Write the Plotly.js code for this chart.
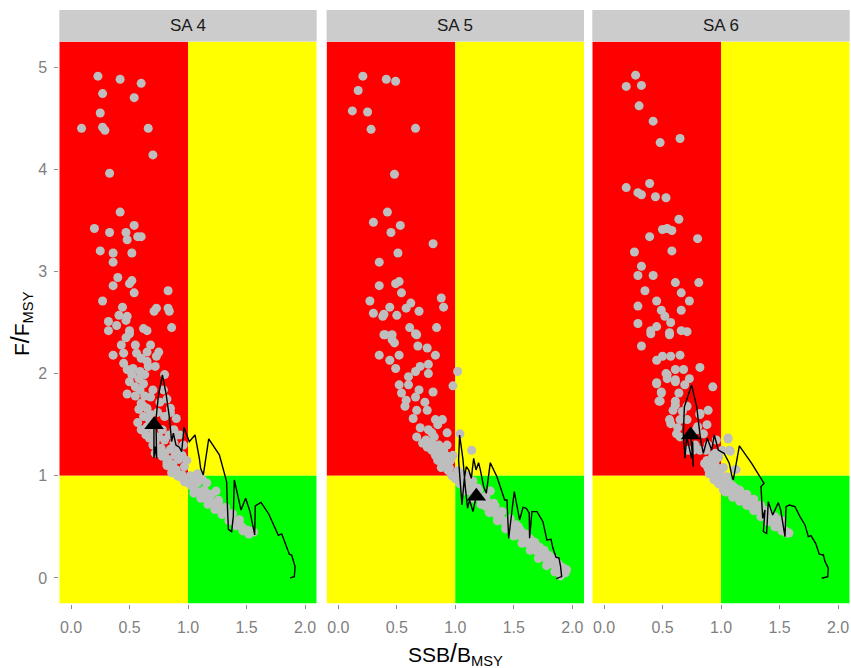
<!DOCTYPE html>
<html><head><meta charset="utf-8">
<script src="https://cdn.plot.ly/plotly-3.0.1.min.js"></script>
<style>html,body{margin:0;padding:0;background:#fff}#chart{width:851px;height:668px}</style>
</head><body><div id="chart"></div>
<script>
// ---------- data ----------
const panelNames = ["SA 4", "SA 5", "SA 6"];
const xTickVals = [0, 0.5, 1, 1.5, 2];
const xTickText = ["0.0", "0.5", "1.0", "1.5", "2.0"];
const yTickVals = [0, 1, 2, 3, 4, 5];

// SA 4 points
const sa4PtsX = [0.23,0.42,0.60,0.27,0.54,0.25,0.09,0.27,0.29,0.66,0.70,0.33,0.42,0.20,0.33,0.54,0.47,0.48,0.57,0.60,0.25,0.36,0.52,0.36,0.40,0.36,0.50,0.52,0.54,0.83,0.27,0.44,0.41,0.48,0.47,0.71,0.73,0.83,0.84,0.86,0.32,0.39,0.62,0.32,0.50,0.65,
 0.36,0.43,0.45,0.50,0.47,0.56,0.65,0.68,0.73,0.75,0.45,0.48,0.52,0.59,0.66,0.72,0.63,0.80,0.50,0.55,0.48,0.59,0.70,0.60,0.65,0.85,0.90,0.68,0.79,
 0.55,0.60,0.65,0.53,0.58,0.62,0.55,0.63,0.58,0.62,0.67,0.65,0.70,0.67,0.72,0.75,0.77,0.80,0.78,0.80,0.74,0.76,0.72,0.83,0.85,0.87,0.90,0.92,0.88,0.95,0.97,0.93,1.00,1.02,1.05,1.07,1.10,1.12,1.15,1.18,1.20,1.23,1.26,1.28,1.31,1.34,1.37,1.40,1.43,1.46,1.50,1.53,1.56,0.88,0.93,0.96,0.95,0.99,0.85,0.82,1.12,1.16,1.08,1.04,1.24,0.82,0.86,0.91,0.97,
 1.02,1.08,1.14,1.20,1.26,1.32,1.38,1.44,1.05,1.11,1.17,1.23,1.29,1.35,1.41,1.47,1.52,0.74,0.78,0.82,0.86,0.89,0.92,0.80,0.84,0.88,0.60,0.64,0.68,0.70,0.57,0.62];
const sa4PtsY = [4.91,4.88,4.84,4.74,4.70,4.55,4.40,4.41,4.38,4.40,4.14,3.96,3.58,3.42,3.38,3.45,3.38,3.31,3.34,3.34,3.20,3.18,3.18,3.09,2.94,2.86,2.88,2.91,2.79,2.81,2.71,2.65,2.57,2.56,2.52,2.61,2.64,2.64,2.61,2.45,2.51,2.47,2.44,2.42,2.42,2.42,
 2.18,2.28,2.20,2.39,2.35,2.20,2.21,2.28,2.17,2.21,2.10,2.04,1.99,2.02,2.07,2.07,1.99,1.99,1.92,1.87,1.80,1.84,1.84,1.71,1.66,1.66,1.56,1.77,1.84,
 2.28,2.15,2.12,2.05,1.95,1.90,1.78,1.78,1.65,1.58,1.55,1.48,1.42,1.37,1.33,1.38,1.27,1.22,1.45,1.58,1.62,1.72,1.22,1.16,1.26,1.11,1.06,1.16,1.32,1.01,1.09,0.99,0.95,0.91,0.87,0.94,0.84,0.80,0.78,0.82,0.74,0.72,0.76,0.67,0.65,0.62,0.58,0.55,0.52,0.50,0.47,0.46,0.45,1.45,1.40,1.30,1.20,1.15,1.62,1.75,0.97,0.93,1.02,0.99,0.85,1.10,1.03,1.00,0.94,
 1.00,0.93,0.86,0.82,0.74,0.69,0.63,0.57,0.83,0.78,0.72,0.67,0.62,0.56,0.51,0.46,0.43,1.26,1.19,1.13,1.07,1.20,1.26,1.35,1.40,1.38,1.45,1.40,1.60,1.30,1.52,1.68];
const sa4LineX = [1.872,1.909,1.915,1.886,1.866,1.832,1.801,1.772,1.735,1.690,1.624,1.575,1.570,1.530,1.493,1.453,1.396,1.387,1.373,1.345,1.336,1.330,1.268,1.177,1.131,1.108,1.097,1.060,1.011,0.966,0.946,0.926,0.897,0.875,0.860,0.840,0.812,0.781,0.746,0.726,0.732,0.718,0.709,0.709];
const sa4LineY = [0.00,0.013,0.111,0.225,0.232,0.339,0.431,0.417,0.519,0.626,0.740,0.705,0.421,0.649,0.780,0.665,0.959,0.600,0.453,0.476,0.731,0.943,1.204,1.360,1.008,1.073,1.171,1.399,1.334,1.474,1.236,1.279,1.301,1.416,1.334,1.579,1.807,1.986,1.774,1.546,1.171,1.285,1.171,1.497];
const sa4Tri = [0.71, 1.50];

// SA 5 points
const sa5PtsX = [0.21,0.41,0.49,0.17,0.12,0.25,0.28,0.66,0.48,0.42,0.30,0.53,0.45,0.81,0.51,0.35,0.35,0.49,0.52,0.54,0.27,0.88,0.90,0.44,0.30,0.38,0.39,0.50,0.58,0.62,0.69,0.61,0.84,0.39,0.46,0.66,
 0.40,0.46,0.48,0.67,0.68,0.76,0.83,0.35,0.52,0.44,0.49,0.70,0.77,0.77,0.60,0.66,1.02,0.52,0.60,0.98,0.54,0.69,0.81,0.58,0.66,0.74,0.57,0.67,0.76,0.83,0.89,0.85,0.64,0.70,0.77,0.93,0.67,1.04,1.14,1.30,
 0.72,0.75,0.78,0.82,0.80,0.84,0.86,0.88,0.90,0.92,0.85,0.94,0.96,0.97,1.00,0.98,1.02,1.04,1.06,1.08,1.10,1.13,1.16,1.18,1.21,1.24,1.26,1.30,1.33,1.36,1.40,1.43,1.47,1.50,1.54,1.58,1.62,1.66,1.70,1.74,1.78,1.82,1.86,1.90,1.94,1.20,1.28,1.34,1.38,1.46,1.52,1.56,1.60,1.64,1.68,1.72,1.76,1.80,1.84,1.88,1.92,0.88,0.93,1.10,1.15,0.80,0.84,
 1.05,1.12,1.19,1.26,1.33,1.40,1.47,1.54,1.61,1.68,1.75,1.82,1.89,1.95,1.08,1.15,1.22,1.29,1.36,1.43,1.50,1.57,1.64,1.71,1.78,1.85,1.90,0.76,0.80,0.84,0.88,0.92,0.90,0.95,0.83];
const sa5PtsY = [4.91,4.88,4.86,4.77,4.57,4.56,4.39,4.40,3.95,3.58,3.48,3.45,3.38,3.27,3.18,3.09,2.86,2.88,2.90,2.79,2.71,2.74,2.65,2.65,2.59,2.56,2.58,2.57,2.64,2.69,2.61,2.45,2.45,2.38,2.38,2.39,
 2.38,2.33,2.30,2.38,2.27,2.25,2.18,2.18,2.18,2.13,2.05,2.07,2.09,2.00,1.97,2.02,2.02,1.89,1.89,1.88,1.81,1.84,1.82,1.74,1.77,1.72,1.68,1.64,1.64,1.55,1.55,1.50,1.56,1.47,1.45,1.42,1.38,1.41,1.25,0.85,
 1.32,1.35,1.30,1.38,1.25,1.22,1.30,1.18,1.25,1.12,1.15,1.05,1.15,1.00,0.97,1.20,1.05,0.92,0.98,0.88,0.93,0.85,0.88,0.80,0.78,0.75,0.70,0.68,0.64,0.60,0.57,0.52,0.49,0.45,0.42,0.38,0.34,0.30,0.26,0.22,0.18,0.14,0.10,0.07,0.05,0.86,0.74,0.70,0.63,0.55,0.52,0.46,0.43,0.38,0.35,0.30,0.27,0.22,0.19,0.14,0.10,1.08,1.30,1.00,0.95,1.42,1.19,
 1.02,0.95,0.88,0.80,0.73,0.65,0.58,0.50,0.42,0.34,0.26,0.18,0.12,0.08,0.85,0.78,0.72,0.64,0.56,0.48,0.41,0.34,0.27,0.19,0.12,0.06,0.02,1.28,1.32,1.28,1.24,1.20,1.14,1.08,1.20];
const sa5LineX = [1.861,1.909,1.900,1.886,1.861,1.835,1.818,1.783,1.749,1.698,1.655,1.635,1.632,1.607,1.579,1.550,1.504,1.476,1.456,1.442,1.422,1.356,1.299,1.265,1.242,1.214,1.199,1.177,1.157,1.137,1.114,1.094,1.077,1.057,1.043,1.028,1.037,1.066,1.085,1.105,1.122,1.151,1.179];
const sa5LineY = [-0.007,0.013,0.111,0.196,0.202,0.290,0.378,0.372,0.551,0.649,0.649,0.388,0.633,0.682,0.691,0.568,0.845,0.568,0.388,0.763,0.763,0.991,1.128,0.828,0.894,1.057,1.128,1.057,1.171,0.975,1.057,1.089,0.975,0.714,0.910,1.155,1.399,1.155,0.894,0.682,0.763,0.649,0.802];
const sa5Tri = [1.18, 0.80];

// SA 6 points
const sa6PtsX = [0.27,0.19,0.32,0.30,0.42,0.48,0.65,0.19,0.39,0.29,0.32,0.44,0.53,0.64,0.39,0.50,0.54,0.58,0.80,0.26,0.58,0.32,0.29,0.42,0.61,0.81,0.35,0.66,0.45,0.73,0.29,0.49,0.52,0.66,0.29,0.45,0.57,0.66,0.40,0.56,
 0.40,0.56,0.71,0.32,0.45,0.50,0.57,0.65,0.61,0.68,0.82,0.53,0.54,0.61,0.45,0.73,0.69,0.49,0.93,0.47,0.61,0.59,0.67,0.89,0.82,0.57,0.63,0.65,0.80,0.78,0.87,1.06,1.01,1.07,1.13,0.95,0.89,0.98,1.05,0.93,0.72,
 0.54,0.45,0.61,0.49,0.64,0.48,0.61,0.71,0.56,0.65,0.71,0.82,0.88,0.62,0.79,0.85,0.89,0.95,0.96,0.92,0.96,1.00,1.06,1.08,1.12,1.05,1.11,1.19,1.28,1.36,1.45,1.56,0.82,0.88,0.76,
 0.88,0.92,0.96,1.00,1.03,1.06,1.10,1.14,1.18,1.22,1.26,1.30,1.34,1.38,1.42,1.46,1.50,1.55,1.58,1.02,1.08,1.12,1.16,1.20,1.24,1.28,1.32,1.36,1.40,1.44,1.48,1.52,0.98,0.94,
 1.04,1.10,1.16,1.22,1.28,1.34,1.40,1.46,1.52,1.04,1.10,1.16,1.22,1.28,1.34,1.40,1.46,1.52,0.90,0.86,0.94,1.02,0.98];
const sa6PtsY = [4.92,4.81,4.82,4.62,4.47,4.26,4.30,3.82,3.86,3.77,3.75,3.73,3.72,3.51,3.34,3.41,3.42,3.40,3.32,3.19,3.20,3.05,2.96,2.96,2.89,2.89,2.81,2.79,2.71,2.71,2.66,2.62,2.56,2.62,2.49,2.46,2.50,2.42,2.42,2.40,
 2.39,2.38,2.41,2.27,2.13,2.17,2.17,2.18,2.04,2.04,2.06,2.00,1.95,1.94,1.91,1.95,1.89,1.82,1.87,1.73,1.73,1.64,1.63,1.64,1.60,1.51,1.47,1.38,1.48,1.30,1.25,1.37,1.25,1.25,1.06,1.14,1.07,1.07,0.99,1.20,1.25,
 1.99,1.90,1.92,1.81,1.81,1.73,1.69,1.68,1.55,1.55,1.55,1.61,1.50,1.41,1.45,1.41,1.30,1.22,1.35,1.14,1.06,1.00,1.36,1.24,1.06,0.96,0.86,0.77,0.70,0.63,0.54,0.44,1.25,1.15,1.25,
 1.10,1.05,1.00,0.95,0.92,0.88,0.84,0.80,0.77,0.74,0.70,0.67,0.63,0.60,0.57,0.53,0.50,0.46,0.44,0.86,0.92,0.88,0.84,0.80,0.77,0.74,0.71,0.66,0.64,0.60,0.57,0.54,0.92,1.10,
 0.96,0.90,0.86,0.82,0.77,0.71,0.66,0.60,0.56,0.84,0.79,0.75,0.71,0.66,0.60,0.55,0.50,0.46,1.02,1.12,0.96,1.08,1.18];
const sa6LineX = [1.861,1.912,1.917,1.889,1.875,1.840,1.809,1.769,1.746,1.718,1.675,1.632,1.584,1.556,1.547,1.510,1.490,1.462,1.442,1.404,1.390,1.362,1.376,1.356,1.342,1.368,1.262,1.157,1.105,1.091,1.071,1.026,0.977,0.943,0.920,0.883,0.849,0.826,0.792,0.749,0.687,0.678,0.692,0.707,0.729,0.749,0.758,0.763,0.741];
const sa6LineY = [-0.003,0.013,0.095,0.160,0.225,0.232,0.339,0.414,0.404,0.519,0.600,0.698,0.714,0.698,0.404,0.665,0.737,0.665,0.616,0.747,0.437,0.453,0.665,0.584,0.894,0.926,1.122,1.292,0.959,1.008,1.122,1.220,1.252,1.399,1.252,1.367,1.220,1.350,1.676,1.888,1.676,1.399,1.171,1.383,1.252,1.171,1.334,1.089,1.399];
const sa6Tri = [0.74, 1.40];

// ---------- build ----------
const W = 851, H = 668;
const FONT = 'Liberation Sans, Arial, sans-serif';
const panelPx = [[59.3, 316.7], [326.6, 584.0], [592.3, 849.7]];
const yDom = [(H - 603.5) / H, (H - 41.45) / H];
const stripTop = (H - 10) / H;
const xRange = [-0.1, 2.1], yRange = [-0.25, 5.25];

const pts = [[sa4PtsX, sa4PtsY], [sa5PtsX, sa5PtsY], [sa6PtsX, sa6PtsY]];
const lines = [[sa4LineX, sa4LineY], [sa5LineX, sa5LineY], [sa6LineX, sa6LineY]];
const tris = [sa4Tri, sa5Tri, sa6Tri];

const traces = [];
const shapes = [];
const annotations = [];
const layout = {
  width: W, height: H, margin: {l: 0, r: 0, t: 0, b: 0},
  paper_bgcolor: '#FFFFFF', plot_bgcolor: '#FFFFFF', showlegend: false,
  font: {family: FONT}
};

for (let i = 0; i < 3; i++) {
  const sfx = i === 0 ? '' : String(i + 1);
  const xa = 'x' + sfx, ya = 'y' + sfx;
  const dom = [panelPx[i][0] / W, panelPx[i][1] / W];
  layout['xaxis' + sfx] = {
    domain: dom, range: xRange, anchor: ya, showgrid: false, zeroline: false, showline: false,
    tickmode: 'array', tickvals: xTickVals, ticktext: xTickText,
    ticks: 'outside', ticklen: 4, tickwidth: 1, tickcolor: '#8C8C8C', ticklabelstandoff: 5,
    tickfont: {size: 16, color: '#7F7F7F', family: FONT}
  };
  layout['yaxis' + sfx] = {
    domain: yDom, range: yRange, anchor: xa, showgrid: false, zeroline: false, showline: false,
    tickmode: 'array', tickvals: yTickVals,
    ticks: i === 0 ? 'outside' : '', showticklabels: i === 0, ticklen: 4, tickwidth: 1, tickcolor: '#8C8C8C',
    ticklabelstandoff: 4,
    tickfont: {size: 16, color: '#7F7F7F', family: FONT}
  };
  const q = [
    [xRange[0], 1, 1, yRange[1], '#FF0000'],
    [1, xRange[1], 1, yRange[1], '#FFFF00'],
    [xRange[0], 1, yRange[0], 1, '#FFFF00'],
    [1, xRange[1], yRange[0], 1, '#00FF00']
  ];
  q.forEach(r => shapes.push({type: 'rect', xref: xa, yref: ya, x0: r[0], x1: r[1], y0: r[2], y1: r[3],
    fillcolor: r[4], line: {width: 0}, layer: 'below'}));
  shapes.push({type: 'rect', xref: 'paper', yref: 'paper', x0: dom[0], x1: dom[1], y0: yDom[1], y1: stripTop,
    fillcolor: '#CCCCCC', line: {width: 0}});
  annotations.push({xref: 'paper', yref: 'paper', x: (dom[0] + dom[1]) / 2, y: (yDom[1] + stripTop) / 2,
    text: panelNames[i], showarrow: false, xanchor: 'center', yanchor: 'middle',
    font: {size: 17, color: '#1A1A1A', family: FONT}});

  traces.push({type: 'scatter', mode: 'markers', x: pts[i][0], y: pts[i][1], xaxis: xa, yaxis: ya,
    marker: {color: '#BEBEBE', size: 9, line: {width: 0}}, hoverinfo: 'skip'});
  traces.push({type: 'scatter', mode: 'lines', x: lines[i][0], y: lines[i][1], xaxis: xa, yaxis: ya,
    line: {color: '#000000', width: 1.4}, hoverinfo: 'skip'});
  traces.push({type: 'scatter', mode: 'markers', x: [tris[i][0]], y: [tris[i][1]], xaxis: xa, yaxis: ya,
    marker: {symbol: 'triangle-up', color: '#000000', size: 17, line: {width: 0}}, hoverinfo: 'skip'});
}

annotations.push({xref: 'paper', yref: 'paper', x: 455 / W, y: (H - 654) / H,
  text: 'SSB<span style="font-size:25px">/</span>B<sub>MSY</sub>', showarrow: false, xanchor: 'center', yanchor: 'middle',
  font: {size: 21, color: '#000000', family: FONT}});
annotations.push({xref: 'paper', yref: 'paper', x: 21 / W, y: (H - 324) / H, textangle: -90,
  text: 'F<span style="font-size:25px">/</span>F<sub>MSY</sub>', showarrow: false, xanchor: 'center', yanchor: 'middle',
  font: {size: 21, color: '#000000', family: FONT}});

layout.shapes = shapes;
layout.annotations = annotations;
Plotly.newPlot('chart', traces, layout, {staticPlot: true, displayModeBar: false});
</script></body></html>
